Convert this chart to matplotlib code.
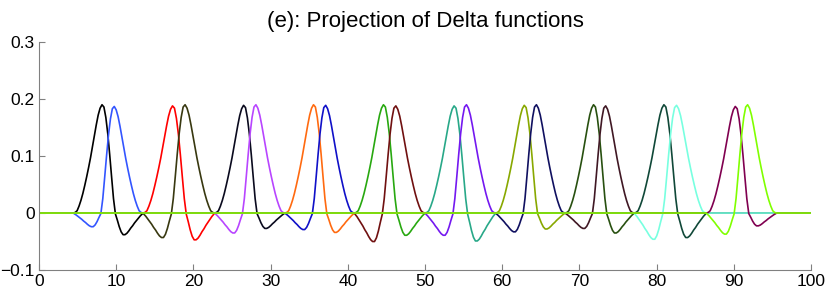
import matplotlib
matplotlib.use("Agg")
import matplotlib.pyplot as plt
import numpy as np

# shape of the first curve of a pair, read off the red curve near x=17
# (offset from the pair's left edge, value)
profile_offset = np.array([0.00, 0.25, 0.50, 0.75, 1.00, 1.25, 1.50, 1.75, 2.00, 2.25,
                           2.50, 2.75, 3.00, 3.25, 3.50, 3.75, 4.00, 4.25, 4.50, 4.75,
                           5.00, 5.25, 5.50, 5.75, 6.00, 6.25, 6.50, 6.75, 7.00, 7.25,
                           7.50, 7.75, 8.00, 8.25, 8.50, 8.75, 9.00, 9.10])
profile_value = np.array([0.000, 0.001, 0.004, 0.012, 0.022, 0.034, 0.048, 0.063, 0.079, 0.096,
                          0.115, 0.134, 0.153, 0.170, 0.182, 0.188, 0.184, 0.166, 0.138, 0.102,
                          0.063, 0.025, -0.002, -0.015, -0.029, -0.040, -0.046, -0.046, -0.043, -0.038,
                          -0.032, -0.027, -0.021, -0.016, -0.011, -0.006, -0.002, 0.000])

# each pair of curves shares one support interval
pair_edges = [4.44, 13.47, 22.75, 31.85, 40.85, 50.0, 59.15, 68.15, 77.1, 86.45, 95.55]

# per curve, left to right
peak_heights = [0.190, 0.187, 0.188, 0.190, 0.189, 0.190, 0.190, 0.189, 0.190, 0.188,
                0.188, 0.190, 0.189, 0.190, 0.190, 0.188, 0.190, 0.189, 0.187, 0.190]
dip_depths = [0.038, 0.024, 0.047, 0.043, 0.027, 0.035, 0.034, 0.029, 0.039, 0.050,
              0.049, 0.039, 0.028, 0.033, 0.035, 0.027, 0.043, 0.046, 0.0225, 0.037]
curve_colors = ["#000000", "#3355ff", "#ff0000", "#383810", "#0a0a1e", "#b845ff",
                "#ff6a10", "#1010c8", "#28a810", "#701010", "#28a888", "#7418f0",
                "#88a800", "#101060", "#285010", "#401824", "#104838", "#78ffe0",
                "#800050", "#80ff00"]

x_ticks = [0, 10, 20, 30, 40, 50, 60, 70, 80, 90, 100]
y_ticks = [-0.1, 0, 0.1, 0.2, 0.3]
y_tick_labels = ["\u22120.1", "0", "0.1", "0.2", "0.3"]

plt.rcParams["font.family"] = ["Liberation Sans", "DejaVu Sans"]

fig, ax = plt.subplots(figsize=(8.3, 2.92), dpi=100)
fig.subplots_adjust(left=0.047, right=0.977, bottom=0.0753, top=0.856)

pos_part = profile_value.clip(min=0) / profile_value.max()
neg_part = profile_value.clip(max=0) / -profile_value.min()

for k in range(len(peak_heights)):
    lo, hi = pair_edges[k // 2], pair_edges[k // 2 + 1]
    stretch = (hi - lo) / profile_offset[-1]
    if k % 2 == 0:
        xs = lo + profile_offset * stretch
    else:
        xs = (hi - profile_offset * stretch)[::-1]
    ys = pos_part * peak_heights[k] + neg_part * dip_depths[k]
    if k % 2 == 1:
        ys = ys[::-1]
    ax.plot(np.r_[0, xs, 100], np.r_[0, ys, 0], color=curve_colors[k], lw=1.2)

ax.set_xlim(0, 100)
ax.set_ylim(-0.1, 0.3)
ax.set_xticks(x_ticks)
ax.set_yticks(y_ticks)
ax.set_yticklabels(y_tick_labels)
ax.spines["top"].set_visible(False)
ax.spines["right"].set_visible(False)
for side in ("left", "bottom"):
    ax.spines[side].set_color("#808080")
ax.tick_params(direction="in", length=4.5, color="#808080", labelsize=12.5, pad=3)
ax.set_title("(e): Projection of Delta functions", fontsize=16, pad=11)

plt.savefig("out.png", dpi=100)
plt.close(fig)
